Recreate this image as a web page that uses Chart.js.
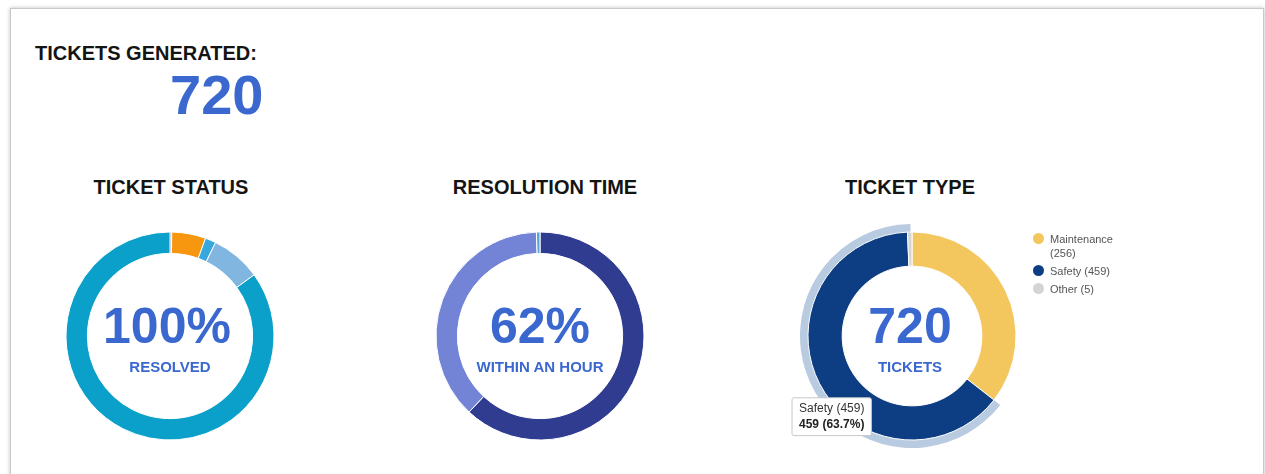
<!DOCTYPE html>
<html lang="en">
<head>
    <meta charset="UTF-8">
    <title>Tickets Dashboard</title>
    <script src="https://cdn.jsdelivr.net/npm/chart.js@4.4.1/dist/chart.umd.min.js"></script>
    <style>
        body { margin: 0; background: #fff; font-family: "Liberation Sans", Arial, sans-serif; }
        #card { position: absolute; left: 10px; top: 8px; width: 1252px; height: 480px; border: 1px solid #c9c9c9; box-shadow: 0 0 4px rgba(0,0,0,0.25); background: #fff; }
        .abs { position: absolute; }
        .title { font-weight: bold; font-size: 20px; line-height: 20px; color: #141414; text-align: center; width: 260px; }
        .big { color: #3a68cf; font-weight: bold; font-size: 50px; line-height: 50px; text-align: center; width: 220px; }
        .sub { color: #3a68cf; font-weight: bold; font-size: 15px; line-height: 15px; text-align: center; width: 220px; }
        #legend { left: 1032px; top: 232px; font-size: 11px; color: #555; line-height: 14px; }
        #legend .item { position: relative; padding-left: 18px; margin-bottom: 4px; width: 80px; }
        #legend .dot { position: absolute; left: 1px; top: 1px; width: 11px; height: 11px; border-radius: 50%; }
    </style>
</head>
<body>
<div id="card"></div>

<div class="abs" style="left:35px;top:43px;font-weight:bold;font-size:20px;line-height:20px;color:#141414;">TICKETS GENERATED:</div>
<div class="abs" id="totalTop" style="left:170px;top:67px;font-weight:bold;font-size:56px;line-height:56px;color:#3a68cf;"></div>

<div class="abs title" style="left:41px;top:177px;">TICKET STATUS</div>
<div class="abs title" style="left:415px;top:177px;">RESOLUTION TIME</div>
<div class="abs title" style="left:780px;top:177px;">TICKET TYPE</div>

<canvas id="statusChart" class="abs" style="left:60px;top:226px;" width="220" height="220"></canvas>
<canvas id="resChart" class="abs" style="left:430px;top:226px;" width="220" height="220"></canvas>
<canvas id="typeChart" class="abs" style="left:782px;top:206px;" width="260" height="260"></canvas>

<div class="abs big" style="left:57px;top:301px;">100%</div>
<div class="abs sub" style="left:60px;top:359px;">RESOLVED</div>
<div class="abs big" style="left:430px;top:301px;">62%</div>
<div class="abs sub" style="left:430px;top:359px;">WITHIN AN HOUR</div>
<div class="abs big" style="left:800px;top:301px;" id="typeTotal"></div>
<div class="abs sub" style="left:800px;top:359px;">TICKETS</div>

<div class="abs" id="legend"></div>

<script>
    // ticket status slices, clockwise from the top
    const statusLabels = ['Open', 'In Progress', 'On Hold', 'Pending', 'Resolved'];
    const statusValues = [2, 38, 12, 56, 612];
    const statusColors = ['#5a5c9e', '#f7960f', '#36a8de', '#80b6e0', '#0ba0c9'];

    // resolution time
    const resLabels = ['Within an hour', 'More than an hour', 'Unknown'];
    const resValues = [446, 270, 4];
    const resColors = ['#2f3c90', '#7383d6', '#5aa6d9'];

    // ticket type
    const typeLabels = ['Maintenance', 'Safety', 'Other'];
    const typeValues = [256, 459, 5];
    const typeColors = ['#f3c75e', '#0d3d82', '#d4d4d4'];
    const selectedType = 1;

    const total = typeValues.reduce((a, b) => a + b, 0);
    document.getElementById('totalTop').textContent = total;
    document.getElementById('typeTotal').textContent = total;

    // legend
    const legend = document.getElementById('legend');
    typeLabels.forEach((label, i) => {
        const item = document.createElement('div');
        item.className = 'item';
        item.innerHTML = '<span class="dot" style="background:' + typeColors[i] + '"></span>' + label + ' (' + typeValues[i] + ')';
        legend.appendChild(item);
    });

    function donut(id, labels, values, colors, extra) {
        return new Chart(document.getElementById(id), {
            type: 'doughnut',
            data: {
                labels: labels,
                datasets: [{
                    data: values,
                    backgroundColor: colors,
                    hoverBackgroundColor: colors,
                    borderColor: '#ffffff',
                    hoverBorderColor: '#ffffff',
                    borderWidth: 1,
                    hoverBorderWidth: 1,
                    radius: 104,
                    cutout: 87
                }]
            },
            options: Object.assign({
                responsive: false,
                animation: false,
                events: [],
                plugins: { legend: { display: false }, tooltip: { enabled: false } }
            }, extra || {}),
            plugins: extra && extra.myPlugins ? extra.myPlugins : []
        });
    }

    donut('statusChart', statusLabels, statusValues, statusColors);
    donut('resChart', resLabels, resValues, resColors);

    // light halo behind the selected slice
    const haloPlugin = {
        id: 'halo',
        beforeDatasetsDraw(chart) {
            const el = chart.getDatasetMeta(0).data[selectedType];
            const p = el.getProps(['x', 'y', 'startAngle', 'endAngle', 'outerRadius'], true);
            const c = chart.ctx;
            c.save();
            c.fillStyle = '#b9cbe0';
            c.beginPath();
            c.arc(p.x, p.y, p.outerRadius + 8, p.startAngle, p.endAngle + 0.03);
            c.arc(p.x, p.y, p.outerRadius - 4, p.endAngle + 0.03, p.startAngle, true);
            c.closePath();
            c.fill();
            c.restore();
        }
    };

    // tooltip box hangs just below the middle of the slice
    Chart.Tooltip.positioners.sliceBelow = function(elements) {
        if (!elements.length) return false;
        const p = elements[0].element.tooltipPosition();
        return { x: p.x - 3, y: p.y };
    };

    const typeChart = donut('typeChart', typeLabels, typeValues, typeColors, {
        plugins: {
            legend: { display: false },
            tooltip: {
                enabled: true,
                position: 'sliceBelow',
                xAlign: 'center',
                yAlign: 'top',
                caretSize: 0,
                caretPadding: 22,
                cornerRadius: 2,
                backgroundColor: '#ffffff',
                borderColor: '#c8c8c8',
                borderWidth: 1,
                titleColor: '#333',
                bodyColor: '#222',
                titleFont: { family: 'Liberation Sans', size: 12, weight: 'normal' },
                bodyFont: { family: 'Liberation Sans', size: 12, weight: 'bold' },
                titleMarginBottom: 1,
                padding: { x: 7, y: 4 },
                displayColors: false,
                callbacks: {
                    title: items => items[0].label + ' (' + items[0].raw + ')',
                    label: item => item.raw + ' (' + (item.raw / total * 100).toFixed(1) + '%)'
                }
            }
        },
        myPlugins: [haloPlugin]
    });

    typeChart.tooltip.setActiveElements([{ datasetIndex: 0, index: selectedType }], { x: 0, y: 0 });
    typeChart.update();
</script>
</body>
</html>
